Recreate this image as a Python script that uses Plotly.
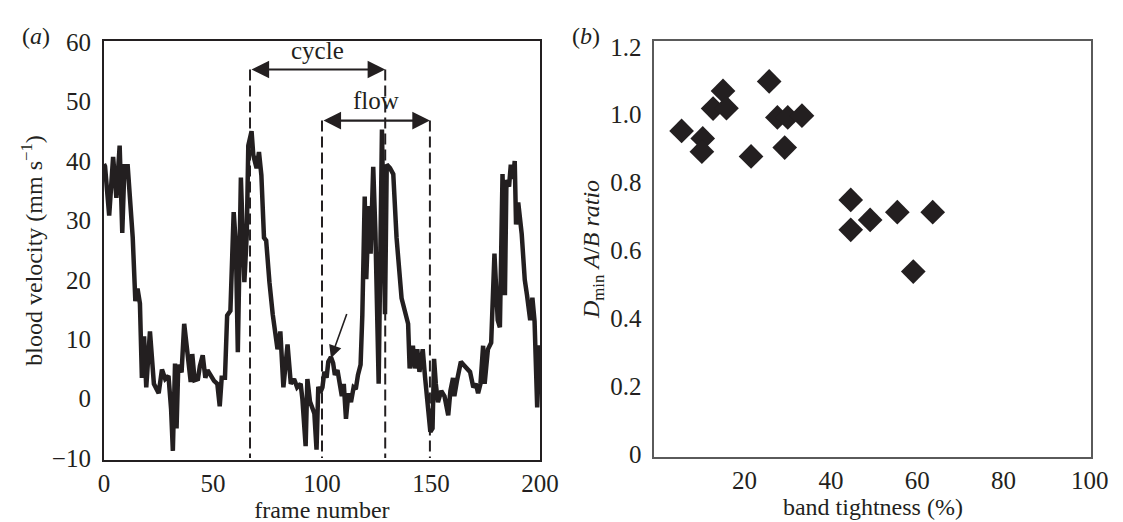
import plotly.graph_objects as go

# ---------------- data: panel (a) ----------------
frames = [0.0, 0.5, 2.4, 4.2, 5.7, 7.2, 8.4, 9.4, 10.9, 13.2, 14.4, 15.4, 16.5, 17.4, 18.4,
          19.4, 21.1, 22.9, 25.1, 26.6, 28.1, 29.6, 30.8, 31.6, 32.6, 33.3, 34.1, 35.6,
          36.8, 38.6, 39.8, 40.5, 41.6, 43.1, 44.0, 45.3, 46.5, 47.5, 49.0, 50.5, 52.0,
          53.1, 54.0, 55.5, 56.5, 58.0, 59.5, 60.5, 61.4, 62.8, 64.4, 65.5, 66.2, 67.7,
          68.5, 70.0, 71.1, 72.2, 73.4, 74.4, 75.9, 77.4, 79.6, 80.9, 82.3, 84.2, 85.7,
          87.2, 88.6, 90.2, 91.0, 92.5, 93.3, 94.5, 95.5, 96.5, 97.5, 98.3, 99.2, 100.2,
          101.1, 102.1, 102.9, 104.1, 105.1, 105.9, 107.1, 108.1, 109.1, 110.0, 111.0,
          112.1, 113.3, 114.5, 115.5, 116.5, 117.7, 118.5, 119.6, 120.3, 121.5, 122.3,
          123.5, 124.5, 126.0, 127.5, 128.9, 129.7, 131.2, 132.7, 134.2, 136.5, 138.0,
          138.8, 139.5, 140.2, 141.7, 142.5, 143.7, 144.7, 146.2, 147.3, 148.5, 149.7,
          150.7, 151.4, 152.2, 153.2, 154.7, 156.2, 157.9, 158.9, 160.1, 160.7, 161.9,
          163.7, 164.9, 166.4, 167.9, 169.4, 170.6, 171.6, 172.7, 173.9, 174.6, 176.1,
          177.6, 179.1, 180.6, 181.6, 182.8, 183.9, 184.6, 185.8, 186.6, 187.6, 188.4,
          189.0, 190.0, 191.6, 193.0, 194.0, 195.5, 196.5, 197.5, 198.7, 199.8]
velocity = [39.5, 39.1, 30.8, 40.7, 33.8, 42.6, 27.9, 39.1, 39.1, 27.1, 16.4, 18.5, 16.0, 3.5, 10.5,
            1.9, 11.3, 2.5, 0.9, 4.9, 3.3, 3.8, -1.8, -8.8, 5.9, -5.0, 5.7, 4.4,
            12.6, 5.7, 2.8, 7.5, 3.1, 3.3, 5.5, 7.3, 3.5, 4.8, 3.8, 3.0, 2.5,
            -1.3, 3.5, 3.5, 14.0, 14.8, 31.4, 26.0, 7.8, 37.2, 19.6, 27.6, 42.6, 45.0,
            41.0, 38.8, 41.5, 37.6, 27.1, 26.6, 19.6, 14.2, 8.3, 11.3, 1.9, 9.1, 2.5,
            3.3, 1.9, 2.5, 0.0, -8.0, 3.3, -0.5, -1.5, -2.5, -8.6, 2.0, 1.0, 1.9,
            4.5, 3.5, 6.2, 7.0, 6.0, 4.0, 4.8, 1.9, 0.4, 2.5, -3.4,
            0.9, -0.6, 1.9, 1.6, 4.0, 5.7, 14.0, 34.0, 20.1, 32.4, 24.4,
            39.0, 28.0, 2.5, 45.3, 14.2, 39.4, 38.8, 37.8, 27.1, 16.9, 14.8,
            13.2, 12.6, 5.1, 8.9, 5.1, 8.3, 4.5, 8.3, 3.5, -1.8, -5.6,
            -5.0, 6.7, 2.5, -0.6, 1.3, 0.4, -2.8, 1.3, 3.5, 0.4, 3.0,
            6.2, 5.7, 5.1, 4.5, 1.9, 2.5, 0.9, 2.5, 8.9, 2.5, 8.3,
            9.4, 24.4, 13.2, 12.0, 37.8, 17.4, 36.8, 35.7, 39.4, 37.0, 40.0,
            29.3, 33.0, 27.7, 20.0, 17.5, 13.2, 17.0, 13.0, -1.5, 9.0]

# annotation positions (frame numbers / velocities)
cycle_start, cycle_end, cycle_level = 67, 129, 55.4
flow_start, flow_end, flow_level = 100, 149.5, 46.8
marker_arrow_tip = (104.1, 6.8)
marker_arrow_tail = (111.6, 14.5)

# ---------------- data: panel (b) ----------------
band_tightness = [5.4, 10.3, 10.1, 12.7, 15.0, 15.8, 21.5, 25.7, 27.6, 30.0, 29.3, 33.3,
                  44.6, 44.6, 49.1, 55.4, 63.6, 59.1]
ab_ratio = [0.952, 0.930, 0.891, 1.018, 1.070, 1.019, 0.877, 1.098, 0.992, 0.992, 0.903, 0.997,
            0.749, 0.661, 0.690, 0.713, 0.713, 0.538]

a_xticks = [0, 50, 100, 150, 200]
a_yticks = [-10, 0, 10, 20, 30, 40, 50, 60]
b_xticks = [20, 40, 60, 80, 100]
b_yticks = [0, 0.2, 0.4, 0.6, 0.8, 1.0, 1.2]
b_yticktext = ["0", "0.2", "0.4", "0.6", "0.8", "1.0", "1.2"]

INK = "#231f20"
FONT = "Liberation Serif, Times New Roman, Times, serif"
W, H = 1123, 522

fig = go.Figure()

fig.add_trace(go.Scatter(x=frames, y=velocity, mode="lines",
                         line=dict(color=INK, width=4.5), xaxis="x", yaxis="y",
                         showlegend=False, hoverinfo="skip"))

# dashed guide lines
for xv, top in [(cycle_start, cycle_level), (cycle_end, cycle_level),
                (flow_start, flow_level), (flow_end, flow_level)]:
    fig.add_trace(go.Scatter(x=[xv, xv], y=[top, -10], mode="lines",
                             line=dict(color=INK, width=2, dash="11px,5px"),
                             xaxis="x", yaxis="y", showlegend=False, hoverinfo="skip"))

fig.add_trace(go.Scatter(x=band_tightness, y=ab_ratio, mode="markers",
                         marker=dict(symbol="diamond", size=19, color=INK),
                         xaxis="x2", yaxis="y2", showlegend=False))

annotations = []
# double-headed arrows
for s, e, lev in [(cycle_start, cycle_end, cycle_level), (flow_start, flow_end, flow_level)]:
    annotations.append(dict(x=e, y=lev, ax=s, ay=lev, xref="x", yref="y", axref="x", ayref="y",
                            showarrow=True, arrowhead=2, arrowside="end+start", arrowsize=1.6,
                            arrowwidth=2.2, arrowcolor=INK, text="", standoff=0, startstandoff=0))
annotations.append(dict(x=(cycle_start + cycle_end) / 2, y=cycle_level + 3.2, xref="x", yref="y",
                        text="cycle", showarrow=False, font=dict(family=FONT, size=25, color=INK)))
annotations.append(dict(x=(flow_start + flow_end) / 2, y=flow_level + 3.3, xref="x", yref="y",
                        text="flow", showarrow=False, font=dict(family=FONT, size=25, color=INK)))
annotations.append(dict(x=marker_arrow_tip[0], y=marker_arrow_tip[1],
                        ax=marker_arrow_tail[0], ay=marker_arrow_tail[1],
                        xref="x", yref="y", axref="x", ayref="y", showarrow=True,
                        arrowhead=2, arrowsize=1.6, arrowwidth=1.6, arrowcolor=INK, text=""))
annotations.append(dict(x=23 / W, y=1 - 17 / H, xref="paper", yref="paper", text="(<i>a</i>)",
                        xanchor="center", yanchor="middle",
                        showarrow=False, font=dict(family=FONT, size=24, color=INK)))
annotations.append(dict(x=585 / W, y=1 - 17 / H, xref="paper", yref="paper", text="(<i>b</i>)",
                        xanchor="center", yanchor="middle",
                        showarrow=False, font=dict(family=FONT, size=24, color=INK)))

tickfont = dict(family=FONT, size=25, color=INK)
titlefont = dict(family=FONT, size=24, color=INK)

common = dict(showgrid=False, zeroline=False, showline=True, mirror=True, ticks="",
              tickfont=tickfont)

fig.update_layout(
    width=W, height=H,
    margin=dict(l=0, r=0, t=0, b=0),
    paper_bgcolor="white", plot_bgcolor="white",
    showlegend=False,
    annotations=annotations,
    xaxis=dict(domain=[92 / W, 538 / W], range=[0, 200], tickvals=a_xticks,
               linecolor=INK, linewidth=2, ticklabelstandoff=0,
               title=dict(text="frame number", font=titlefont, standoff=0), anchor="y", **common),
    yaxis=dict(domain=[1 - 461 / H, 1 - 22 / H], range=[-10.3, 60.2], tickvals=a_yticks,
               linecolor=INK, linewidth=2, ticklabelstandoff=6,
               title=dict(text="blood velocity (mm s<sup>−1</sup>)", font=titlefont, standoff=2),
               anchor="x", **common),
    xaxis2=dict(domain=[655 / W, 1102 / W], range=[-0.9, 100.4], tickvals=b_xticks,
                linecolor="#5a5a5a", linewidth=2, ticklabelstandoff=0,
                title=dict(text="band tightness (%)", font=titlefont, standoff=0), anchor="y2",
                **common),
    yaxis2=dict(domain=[1 - 458 / H, 1 - 22 / H], range=[-0.008, 1.217], tickvals=b_yticks,
                ticktext=b_yticktext, linecolor="#5a5a5a", linewidth=2, ticklabelstandoff=6,
                title=dict(text="<i>D</i><sub>min</sub> <i>A</i>/<i>B ratio</i>", font=titlefont,
                           standoff=4), anchor="x2", **common),
)

fig.write_html("out.html")
